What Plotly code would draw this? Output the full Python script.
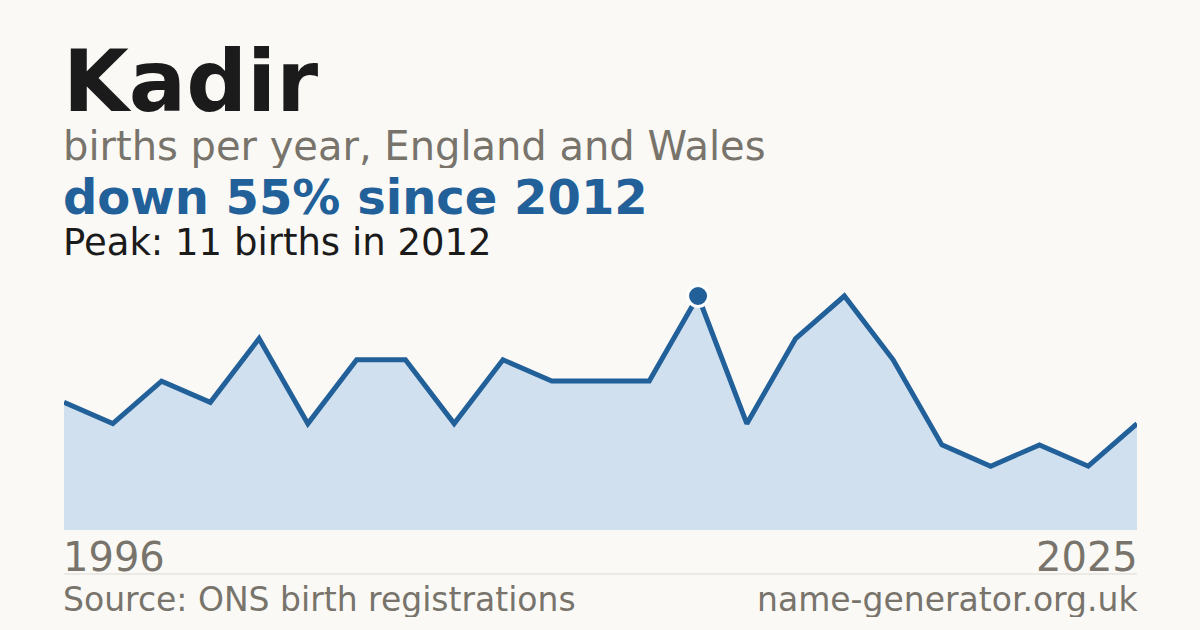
import plotly.graph_objects as go

# births per year (years with suppressed counts are absent)
years = ["1996", "1997", "1998", "2000", "2001", "2002", "2004", "2005", "2006",
         "2007", "2008", "2010", "2011", "2012", "2013", "2015", "2016", "2018",
         "2019", "2020", "2022", "2023", "2025"]
births = [6, 5, 7, 6, 9, 5, 8, 8, 5, 8, 7, 7, 7, 11, 5, 9, 11, 8, 4, 3, 4, 3, 5]

peak_year = "2012"
peak_value = 11

W, H = 1200, 630
BG = "#faf9f5"
BLUE = "#22609a"
FILL = "#d0e0ef"
GREY = "#78746c"
INK = "#1b1b1b"
FONT = "DejaVu Sans"


def px_y(y):
    # figure pixel row -> paper fraction (margins are zero)
    return 1 - y / H


def px_x(x):
    return x / W


fig = go.Figure()

fig.add_trace(go.Scatter(
    x=years, y=births, mode="lines",
    line=dict(color=BLUE, width=5),
    fill="tozeroy", fillcolor=FILL,
    hoverinfo="skip",
))

fig.add_trace(go.Scatter(
    x=[peak_year], y=[peak_value], mode="markers",
    marker=dict(size=21, color=BLUE, line=dict(color="white", width=3)),
    hoverinfo="skip",
))

# y scale: 0 at row 530, 11 at row 296
unit = (530 - 296) / 11
top_px = 272
ymax = (530 - top_px) / unit

fig.update_layout(
    width=W, height=H,
    paper_bgcolor=BG, plot_bgcolor=BG,
    margin=dict(l=0, r=0, t=0, b=0),
    showlegend=False,
    font=dict(family=FONT),
    xaxis=dict(type="category", range=[0, len(years) - 1],
               domain=[px_x(64), px_x(1137)],
               showgrid=False, zeroline=False, showticklabels=False,
               showline=False, ticks=""),
    yaxis=dict(range=[0, ymax], domain=[px_y(530), px_y(top_px)],
               showgrid=False, zeroline=False, showticklabels=False,
               showline=False, ticks=""),
)

texts = [
    # text, x px, center row px, size, colour, bold, anchor, box height
    ("Kadir", 62, 81, 85, INK, True, "left", 80),
    ("births per year, England and Wales", 62, 146, 40, GREY, False, "left", 44),
    ("down 55% since 2012", 62, 197, 48, BLUE, True, "left", 46),
    ("Peak: 11 births in 2012", 62, 242, 37, INK, False, "left", 34),
    (years[0], 62, 557, 40, GREY, False, "left", 40),
    (years[-1], 1139, 557, 40, GREY, False, "right", 40),
    ("Source: ONS birth registrations", 62, 599, 33, GREY, False, "left", 36),
    ("name-generator.org.uk", 1139, 599, 33, GREY, False, "right", 36),
]
for txt, x, y, size, col, bold, anchor, hgt in texts:
    fig.add_annotation(
        text=f"<b>{txt}</b>" if bold else txt,
        xref="paper", yref="paper", x=px_x(x), y=px_y(y),
        xanchor=anchor, yanchor="middle", showarrow=False,
        font=dict(family=FONT, size=size, color=col),
        height=hgt, valign="middle", borderpad=0,
    )

fig.add_shape(type="line", xref="paper", yref="paper",
              x0=px_x(64), x1=px_x(1137), y0=px_y(574), y1=px_y(574),
              line=dict(color="#dddbd5", width=1))

# drop the page's default body margin so the figure fills the window
fig.write_html("out.html",
               config={"displayModeBar": False},
               post_script="document.body.style.margin='0';")
